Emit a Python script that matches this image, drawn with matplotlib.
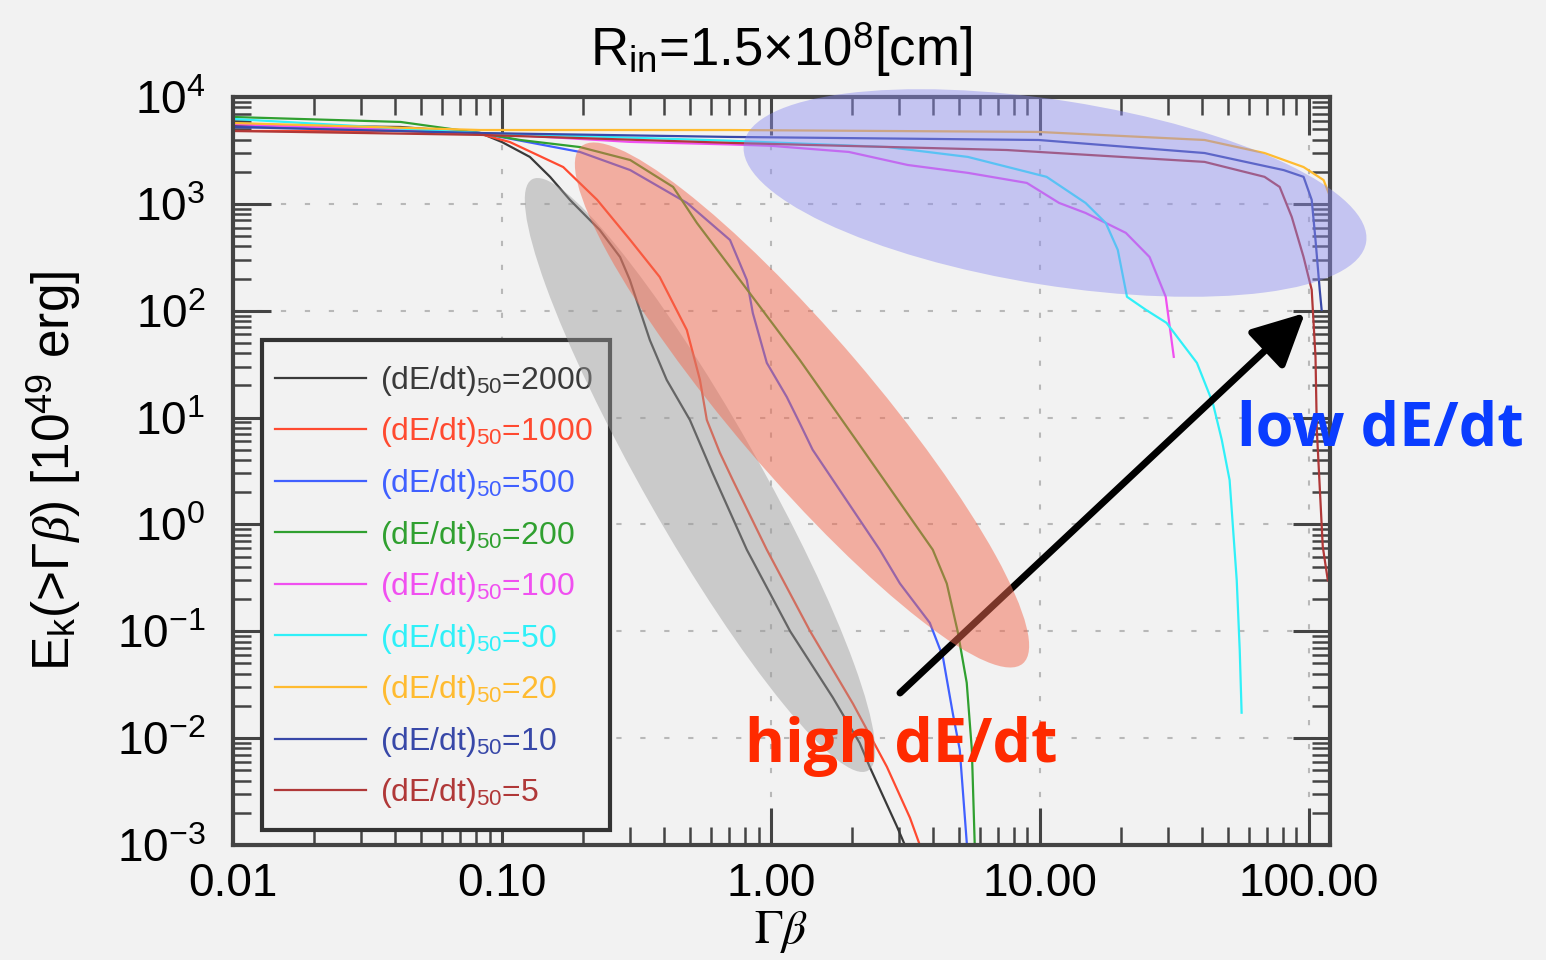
import matplotlib
matplotlib.use('Agg')
import matplotlib.pyplot as plt
from matplotlib.patches import Ellipse, Rectangle
from matplotlib.ticker import FixedLocator, LogLocator, FuncFormatter, NullFormatter

plt.rcParams['font.family'] = ['Liberation Sans', 'DejaVu Sans']
plt.rcParams['mathtext.fontset'] = 'custom'
plt.rcParams['mathtext.rm'] = 'Liberation Sans'
plt.rcParams['mathtext.it'] = 'Liberation Serif:italic'
plt.rcParams['mathtext.bf'] = 'Liberation Sans:bold'
plt.rcParams['axes.unicode_minus'] = False

# (dE/dt)_50 = 2000
gb_2000 = [0.01, 0.042, 0.083, 0.100, 0.127, 0.151, 0.179, 0.231, 0.275, 0.299, 0.355, 0.410,
           0.500, 0.608, 0.814, 1.18, 1.70, 2.14, 2.33, 2.94, 3.15]
ek_2000 = [5470, 5240, 4600, 3790, 2750, 1790, 1090, 570, 318, 194, 53, 22.5,
           9.5, 3.0, 0.58, 0.10, 0.024, 0.0090, 0.0054, 0.0015, 0.001]
# 1000
gb_1000 = [0.01, 0.042, 0.083, 0.107, 0.169, 0.226, 0.30, 0.386, 0.487, 0.545, 0.578, 0.646,
           0.722, 0.966, 1.40, 2.02, 2.70, 3.29, 3.58]
ek_1000 = [4810, 4800, 4510, 3790, 2210, 1090, 459, 207, 66, 22.5, 9.5, 4.7,
           2.6, 0.58, 0.10, 0.021, 0.0054, 0.0018, 0.001]
# 500
gb_500 = [0.01, 0.042, 0.083, 0.195, 0.30, 0.488, 0.705, 0.814, 0.857, 0.966, 1.146, 1.28,
          1.43, 2.54, 3.02, 3.90, 4.36, 4.75, 5.04, 5.36]
ek_500 = [5240, 5100, 4600, 3060, 2070, 1020, 459, 194, 95, 32.5, 15.6, 8.9,
          5.0, 0.58, 0.28, 0.12, 0.058, 0.017, 0.0078, 0.001]
# 200
gb_200 = [0.01, 0.042, 0.083, 0.117, 0.195, 0.30, 0.433, 0.531, 0.767, 1.28, 2.20, 4.00,
          4.51, 4.95, 5.35, 5.59, 5.73]
ek_200 = [6500, 5840, 4600, 3960, 3400, 2570, 1440, 662, 194, 34.7, 5.0, 0.58,
          0.28, 0.10, 0.033, 0.0078, 0.001]
# 100
gb_100 = [0.01, 0.083, 0.30, 0.70, 0.99, 1.95, 3.23, 5.4, 8.95, 11.8, 14.8, 20.9, 25.6, 29.4, 31.5]
ek_100 = [5580, 4600, 3800, 3600, 3500, 3060, 2310, 1950, 1570, 1020, 822, 535, 318, 135, 37]
# 50
gb_50 = [0.01, 0.083, 0.70, 2.72, 5.4, 10.6, 14.8, 17.6, 19.5, 21.1, 24.8, 29.6, 38.4,
         44, 47.5, 50.8, 54, 55.4, 56.3]
ek_50 = [6230, 4600, 3900, 3400, 2750, 1790, 1020, 662, 371, 135, 102, 77, 32.5,
         13.7, 6.2, 2.6, 0.30, 0.067, 0.0173]
# 20
gb_20 = [0.01, 0.083, 0.705, 9.9, 41, 68.5, 95.7, 113.6, 118.7]
ek_20 = [5710, 4910, 4910, 4710, 3960, 2990, 2210, 1670, 1260]
# 10
gb_10 = [0.01, 0.083, 0.705, 9.9, 41, 80.7, 95.7, 102.6, 106, 109.9, 111.7]
ek_10 = [5240, 4600, 4230, 3960, 2990, 2070, 1790, 1090, 459, 157, 102]
# 5
gb_5 = [0.01, 0.083, 0.705, 7.54, 41, 68.5, 78, 86.5, 95.7, 102.6, 106, 107.2, 112.8, 117.8]
ek_5 = [4810, 4420, 3720, 3190, 2470, 1790, 1440, 754, 318, 157, 37, 7.7, 0.62, 0.30]

rates = ['2000', '1000', '500', '200', '100', '50', '20', '10', '5']
xs = [gb_2000, gb_1000, gb_500, gb_200, gb_100, gb_50, gb_20, gb_10, gb_5]
ys = [ek_2000, ek_1000, ek_500, ek_200, ek_100, ek_50, ek_20, ek_10, ek_5]
colors = ['#3a3a3a', '#ff4a30', '#4060ff', '#30a030', '#f050f0', '#30f0f8',
          '#ffbb30', '#3848a8', '#b03838']

xticks = [0.01, 0.1, 1, 10, 100]

bg = '#f2f2f2'
fig = plt.figure(figsize=(15.46, 9.6), dpi=100, facecolor=bg)
ax = fig.add_axes([0.15071, 0.11979, 0.70957, 0.77917])
ax.set_facecolor(bg)

for gx, ey, c, r in zip(xs, ys, colors, rates):
    ax.plot(gx, ey, color=c, lw=1.6, label=r'(dE/dt)$_{50}$=' + r)

ax.set_xscale('log')
ax.set_yscale('log')
ax.set_xlim(0.01, 120)
ax.set_ylim(1e-3, 1e4)

ax.xaxis.set_major_locator(FixedLocator(xticks))
ax.xaxis.set_major_formatter(FuncFormatter(lambda v, p: f'{v:.2f}'))
ax.xaxis.set_minor_locator(LogLocator(base=10, subs=range(2, 10), numticks=20))
ax.xaxis.set_minor_formatter(NullFormatter())
ax.yaxis.set_major_locator(LogLocator(base=10, numticks=20))
ax.yaxis.set_minor_locator(LogLocator(base=10, subs=range(2, 10), numticks=20))
ax.yaxis.set_minor_formatter(NullFormatter())

ax.grid(which='major', color='#b8b8b8', linestyle=(0, (2.5, 9)), lw=1.5)
ax.set_axisbelow(True)

ax.tick_params(which='both', direction='in', top=True, right=True, color='#444444')
ax.tick_params(which='major', length=27, width=2.2, labelsize=33)
ax.tick_params(which='minor', length=13, width=1.8)
ax.tick_params(axis='x', which='major', pad=12)
ax.tick_params(axis='y', which='major', pad=20)
for s in ax.spines.values():
    s.set_linewidth(3)
    s.set_color('#444444')

ax.set_xlabel(r'$\Gamma\beta$', fontsize=34, math_fontfamily='stix')
ax.xaxis.set_label_coords(0.5, -0.086)
ax.set_ylabel(r'E$_{\rm k}$(>$\Gamma\beta$) [10$^{49}$ erg]', fontsize=37)
ax.yaxis.set_label_coords(-0.137, 0.5)

fig.text(781 / 1546, 1 - 50 / 960, r'R$_{\rm in}$=1.5×10$^{8}$[cm]', fontsize=38,
         ha='center', va='center')

leg = ax.legend(loc='upper left', bbox_to_anchor=(0.0264, 0.6604), borderaxespad=0,
                fontsize=23, labelcolor='linecolor', handlelength=2.85,
                handletextpad=0.45, labelspacing=0.55, borderpad=0.4,
                frameon=False)
# legend box
ax.add_patch(Rectangle((2.62, 1.30), 3.48, 4.90, transform=fig.dpi_scale_trans,
                       facecolor=bg, edgecolor='#333333', lw=3, zorder=4.5))

# highlight ellipses (inches, figure coordinates)
tr = fig.dpi_scale_trans
fig.add_artist(Ellipse((7.0, 4.85), 6.8, 1.15, angle=-60.4, transform=tr,
                       facecolor='#9a9a9a', edgecolor='none', alpha=0.45))
fig.add_artist(Ellipse((8.02, 5.55), 6.8, 1.4, angle=-49.5, transform=tr,
                       facecolor='#f26a50', edgecolor='none', alpha=0.5))
fig.add_artist(Ellipse((10.55, 7.67), 6.3, 1.85, angle=-9, transform=tr,
                       facecolor='#8c8cf0', edgecolor='none', alpha=0.45))

ax.annotate('', xy=(1305, 647), xytext=(900, 267), xycoords='figure pixels',
            textcoords='figure pixels',
            arrowprops=dict(arrowstyle='-|>,head_length=0.8,head_width=0.4',
                            lw=5, color='black', mutation_scale=40,
                            shrinkA=0, shrinkB=0))

fig.text(745 / 1546, 1 - 762 / 960, 'high dE/dt', fontsize=44, fontweight='bold',
         family='Open Sans', color='#ff2a00', ha='left', va='baseline')
fig.text(1237 / 1546, 1 - 445 / 960, 'low dE/dt', fontsize=44, fontweight='bold',
         family='Open Sans', color='#0a3cff', ha='left', va='baseline')

fig.savefig('out.png', dpi=100, facecolor=bg)
